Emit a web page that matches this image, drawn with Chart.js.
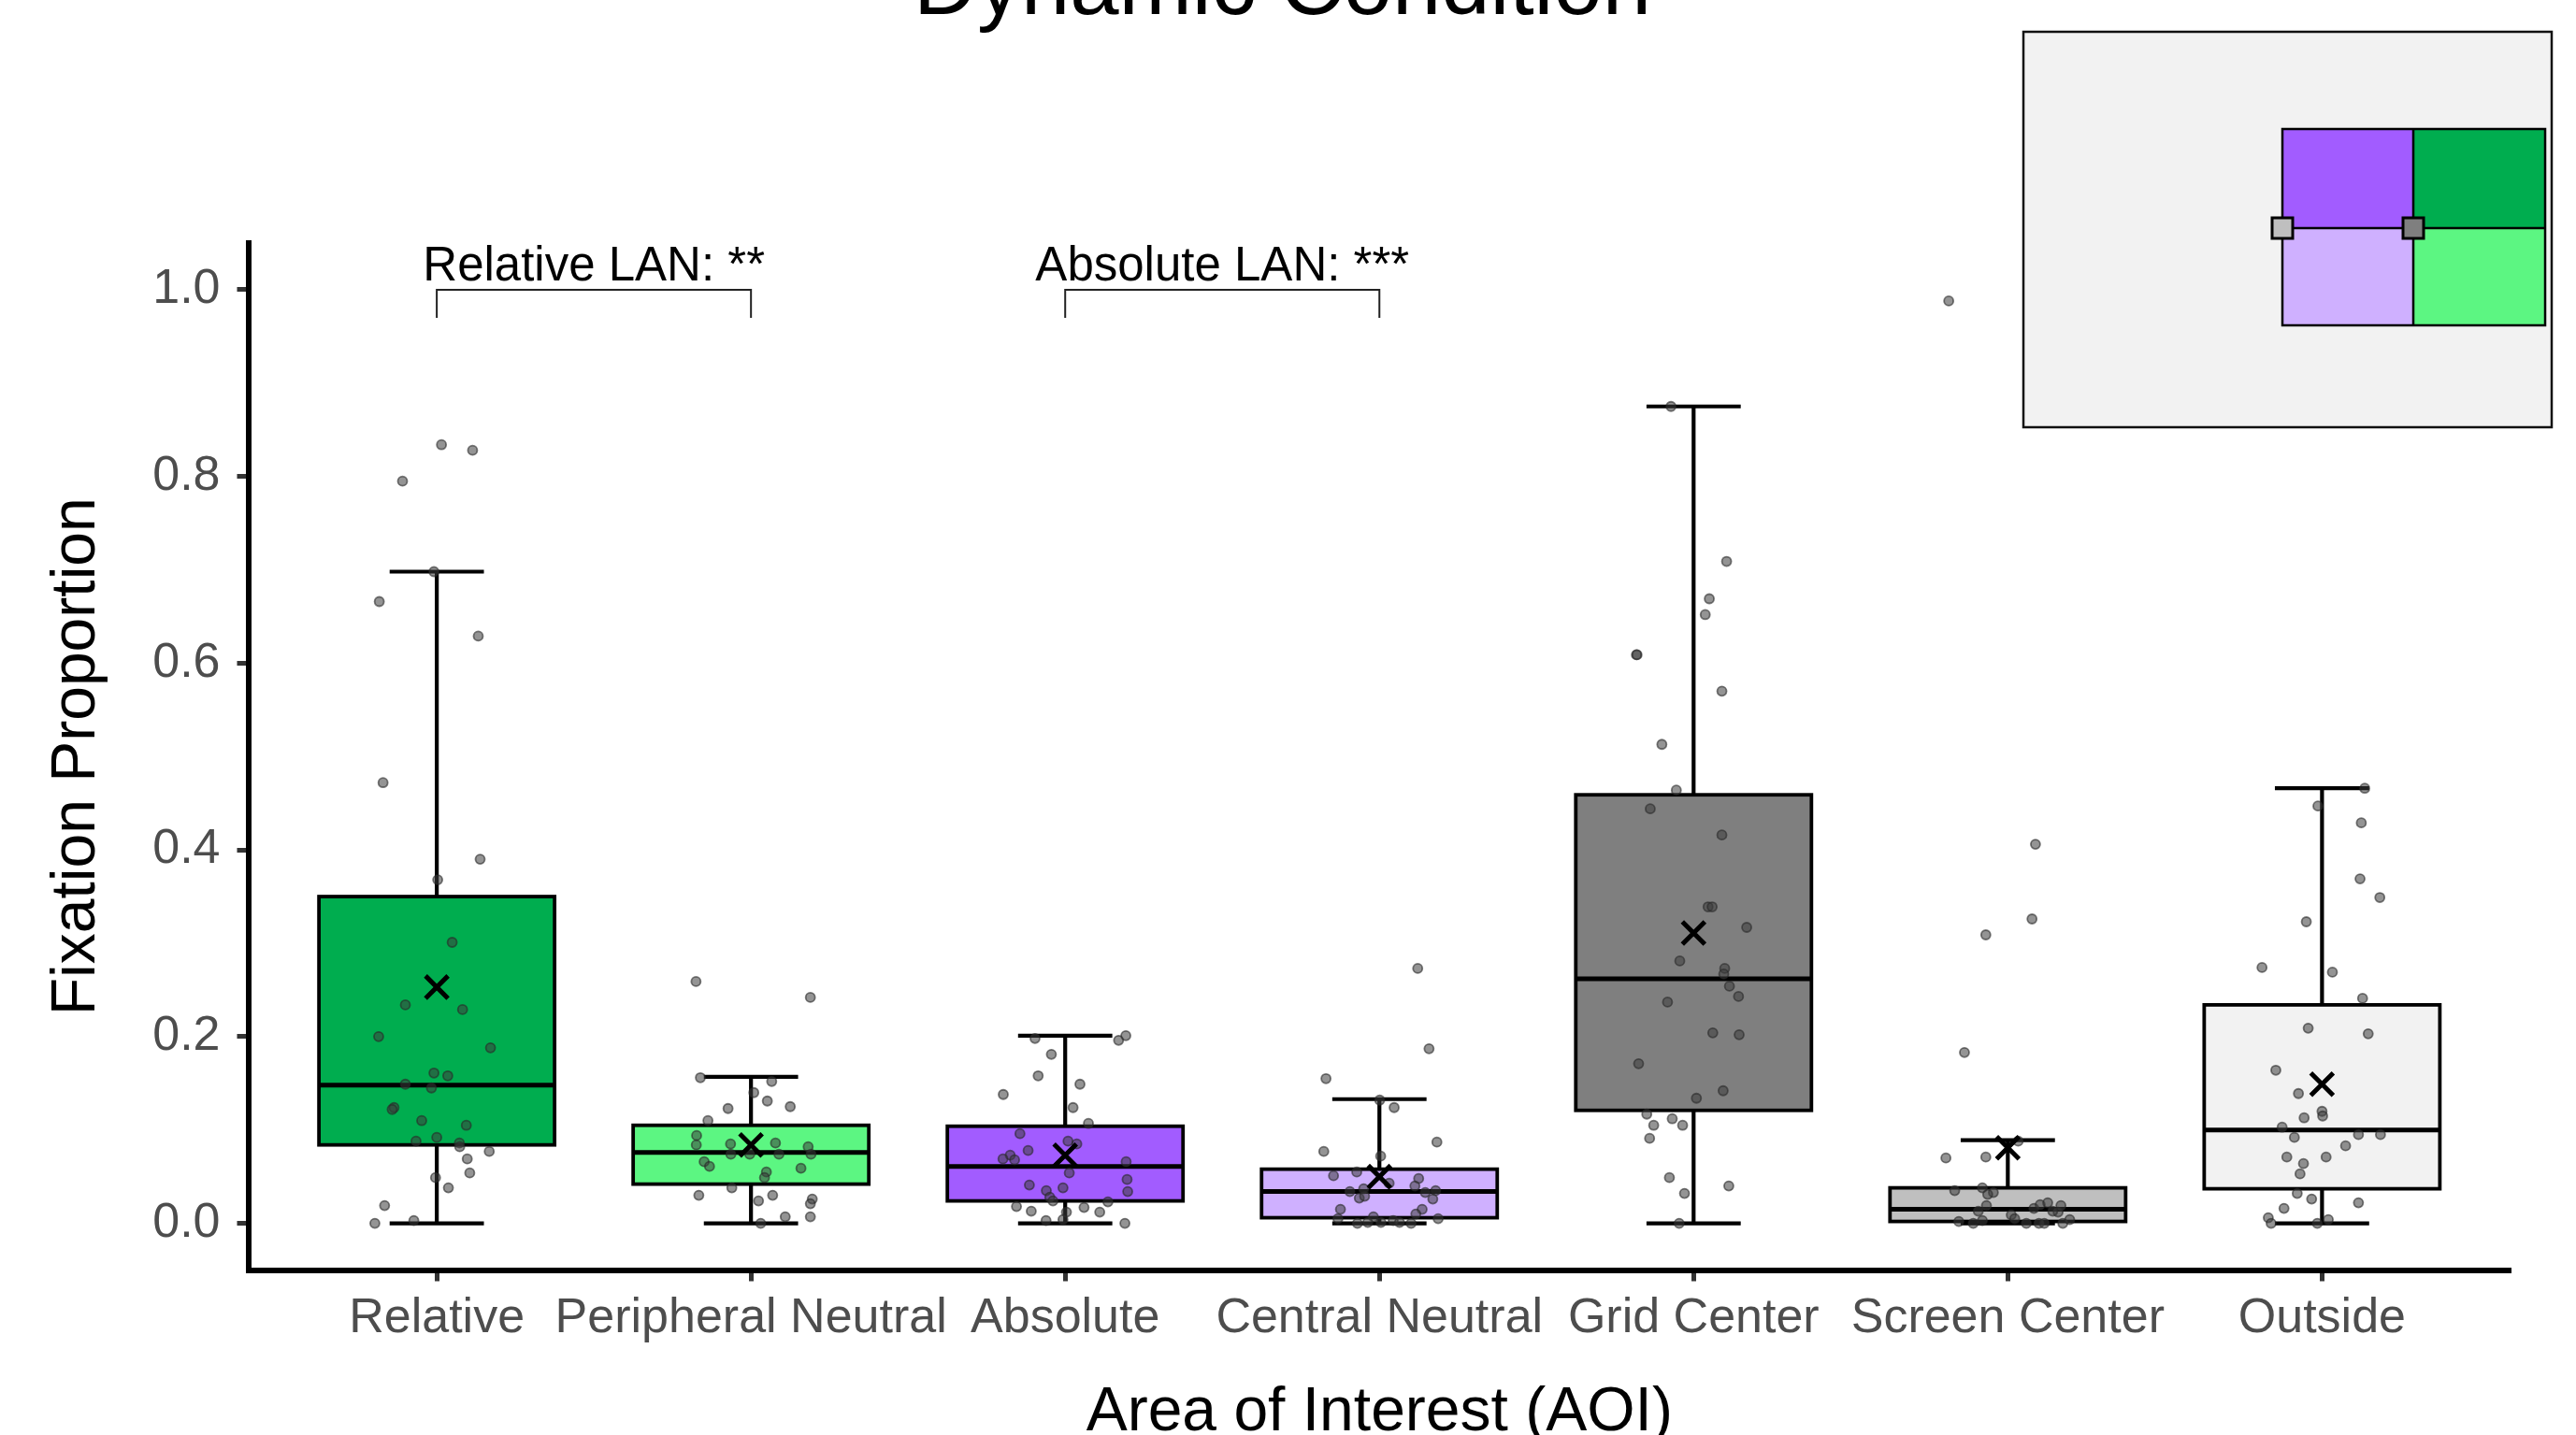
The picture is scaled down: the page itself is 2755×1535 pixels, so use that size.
<!DOCTYPE html>
<html>
<head>
<meta charset="utf-8">
<script src="https://cdn.jsdelivr.net/npm/chart.js@4.4.1/dist/chart.umd.min.js"></script>
<style>
  html, body { margin: 0; padding: 0; background: #ffffff; }
  canvas { display: block; }
</style>
</head>
<body>
<canvas id="chart" width="2755" height="1535"></canvas>
<script>
// Areas of interest along the x axis
const categories = ['Relative', 'Peripheral Neutral', 'Absolute', 'Central Neutral', 'Grid Center', 'Screen Center', 'Outside'];

// Box summaries (fixation proportion)
const whiskerLow  = [0.000, 0.000, 0.000, 0.000, 0.000, 0.000, 0.000];
const q1          = [0.084, 0.042, 0.024, 0.006, 0.121, 0.002, 0.037];
const median      = [0.148, 0.076, 0.061, 0.034, 0.262, 0.015, 0.100];
const q3          = [0.350, 0.105, 0.104, 0.058, 0.459, 0.038, 0.234];
const whiskerHigh = [0.698, 0.157, 0.201, 0.133, 0.875, 0.089, 0.466];
const means       = [0.253, 0.084, 0.073, 0.050, 0.311, 0.081, 0.149];

// Per-participant proportions and their horizontal jitter (category units)
const relativeVals = [0.834, 0.828, 0.795, 0.698, 0.666, 0.629, 0.472, 0.390, 0.368, 0.301, 0.234, 0.229, 0.200, 0.188, 0.161, 0.158, 0.149, 0.145, 0.124, 0.122, 0.110, 0.105, 0.092, 0.088, 0.086, 0.082, 0.077, 0.069, 0.054, 0.049, 0.038, 0.019, 0.000, 0.003];
const relativeJit  = [0.015, 0.114, -0.109, -0.009, -0.183, 0.132, -0.171, 0.138, 0.003, 0.049, -0.100, 0.082, -0.185, 0.171, -0.009, 0.035, -0.100, -0.017, -0.136, -0.142, -0.048, 0.094, 0.000, -0.066, 0.072, 0.073, 0.167, 0.097, 0.105, -0.004, 0.037, -0.166, -0.197, -0.073];

const peripheralVals = [0.259, 0.242, 0.156, 0.152, 0.140, 0.131, 0.125, 0.123, 0.110, 0.094, 0.084, 0.085, 0.086, 0.082, 0.074, 0.074, 0.074, 0.074, 0.066, 0.061, 0.059, 0.055, 0.049, 0.038, 0.030, 0.030, 0.024, 0.026, 0.021, 0.007, 0.007, 0.000];
const peripheralJit  = [-0.175, 0.189, -0.161, 0.066, 0.009, 0.052, 0.125, -0.073, -0.137, -0.173, -0.174, -0.065, 0.078, 0.182, -0.064, -0.004, 0.089, 0.191, -0.149, -0.132, 0.159, 0.049, 0.043, -0.061, -0.166, 0.069, 0.024, 0.195, 0.189, 0.109, 0.189, 0.031];

const absoluteVals = [0.198, 0.196, 0.201, 0.181, 0.158, 0.149, 0.138, 0.124, 0.107, 0.096, 0.088, 0.085, 0.078, 0.073, 0.069, 0.068, 0.066, 0.054, 0.047, 0.041, 0.038, 0.035, 0.034, 0.028, 0.024, 0.023, 0.018, 0.017, 0.013, 0.012, 0.012, 0.003, 0.004, 0.000];
const absoluteJit  = [-0.096, 0.170, 0.193, -0.044, -0.086, 0.047, -0.197, 0.025, 0.074, -0.144, 0.009, 0.037, -0.118, -0.175, -0.198, -0.161, 0.194, 0.013, 0.197, -0.114, -0.007, -0.060, 0.199, -0.049, -0.039, 0.136, -0.155, 0.060, -0.108, 0.110, 0.004, -0.061, -0.007, 0.190];

const centralVals = [0.273, 0.187, 0.155, 0.132, 0.124, 0.087, 0.077, 0.072, 0.051, 0.055, 0.048, 0.043, 0.040, 0.037, 0.034, 0.033, 0.035, 0.027, 0.029, 0.026, 0.015, 0.015, 0.010, 0.005, 0.007, 0.005, 0.000, 0.001, 0.001, 0.003, 0.001, 0.000];
const centralJit  = [0.122, 0.158, -0.170, 0.001, 0.047, 0.183, -0.177, 0.004, -0.146, -0.072, 0.125, 0.031, 0.113, -0.050, -0.094, 0.146, 0.179, -0.064, -0.047, 0.170, -0.124, 0.136, 0.116, -0.132, -0.019, 0.187, -0.070, -0.037, 0.005, 0.044, 0.064, 0.101];

const gridVals = [0.875, 0.709, 0.669, 0.652, 0.609, 0.609, 0.570, 0.513, 0.464, 0.444, 0.416, 0.339, 0.339, 0.317, 0.281, 0.273, 0.267, 0.254, 0.237, 0.243, 0.204, 0.202, 0.171, 0.142, 0.134, 0.117, 0.112, 0.105, 0.105, 0.091, 0.049, 0.040, 0.032, 0.000];
const gridJit  = [-0.072, 0.105, 0.050, 0.037, -0.182, -0.180, 0.090, -0.101, -0.055, -0.138, 0.090, 0.046, 0.059, 0.169, -0.044, 0.099, 0.096, 0.114, -0.083, 0.143, 0.061, 0.145, -0.175, 0.094, 0.009, -0.149, -0.068, -0.127, -0.035, -0.140, -0.077, 0.112, -0.029, -0.046];

const screenVals = [0.988, 0.406, 0.326, 0.309, 0.183, 0.070, 0.071, 0.088, 0.035, 0.038, 0.033, 0.031, 0.013, 0.019, 0.009, 0.016, 0.020, 0.022, 0.019, 0.012, 0.013, 0.002, 0.000, 0.003, 0.000, 0.000, 0.000, 0.000, 0.004, 0.005];
const screenJit  = [-0.188, 0.088, 0.077, -0.070, -0.138, -0.197, -0.070, 0.033, -0.169, -0.081, -0.046, -0.064, -0.094, -0.068, 0.011, 0.083, 0.103, 0.127, 0.169, 0.160, 0.143, -0.156, -0.110, -0.081, 0.059, 0.099, 0.116, 0.175, 0.197, 0.022];

const outsideVals = [0.466, 0.447, 0.429, 0.369, 0.349, 0.323, 0.274, 0.269, 0.241, 0.209, 0.203, 0.164, 0.139, 0.120, 0.115, 0.113, 0.103, 0.092, 0.095, 0.095, 0.083, 0.071, 0.071, 0.064, 0.053, 0.032, 0.026, 0.016, 0.022, 0.006, 0.000, 0.000, 0.004];
const outsideJit  = [0.136, -0.013, 0.125, 0.121, 0.184, -0.050, -0.191, 0.033, 0.129, -0.044, 0.147, -0.147, -0.075, 0.000, 0.002, -0.057, -0.127, -0.088, 0.116, 0.186, 0.075, -0.112, 0.013, -0.059, -0.070, -0.079, -0.033, -0.121, 0.116, -0.171, -0.162, -0.015, 0.020];

const pointVals = [relativeVals, peripheralVals, absoluteVals, centralVals, gridVals, screenVals, outsideVals];
const pointJit  = [relativeJit, peripheralJit, absoluteJit, centralJit, gridJit, screenJit, outsideJit];

// Y axis ticks
const yTicks = [0.0, 0.2, 0.4, 0.6, 0.8, 1.0];

// Significance brackets between AOI pairs (category positions, 1-based)
const compFrom   = [1, 3];
const compTo     = [2, 4];
const compLabels = ['Relative LAN: **', 'Absolute LAN: ***'];
const bracketTop = 1.0;
const bracketTip = 0.97;
const labelBase  = 1.01;

const boxColors = ['#00AD4F', '#5CF682', '#A25CFF', '#CFB0FF', '#7F7F7F', '#BFBFBF', '#F2F2F2'];
const FONT = '"Liberation Sans", Arial, Helvetica, sans-serif';

const jitterPoints = [];
pointVals.forEach((vals, i) => {
  vals.forEach((v, j) => jitterPoints.push({ x: i + 1 + pointJit[i][j], y: v }));
});
const meanPoints = means.map((m, i) => ({ x: i + 1, y: m }));

// Boxes, whiskers and medians drawn under the points
const boxPlugin = {
  id: 'boxes',
  beforeDatasetsDraw(chart) {
    const { ctx, scales: { x, y } } = chart;
    const unit = x.getPixelForValue(2) - x.getPixelForValue(1);
    const bw = unit * 0.375, cw = unit * 0.15;
    ctx.save();
    categories.forEach((c, i) => {
      const cx = x.getPixelForValue(i + 1);
      const yLo = y.getPixelForValue(whiskerLow[i]);
      const yHi = y.getPixelForValue(whiskerHigh[i]);
      const yQ1 = y.getPixelForValue(q1[i]);
      const yQ3 = y.getPixelForValue(q3[i]);
      const yMed = y.getPixelForValue(median[i]);
      ctx.strokeStyle = '#000';
      ctx.lineCap = 'butt';
      ctx.lineWidth = 4.2;
      ctx.beginPath();
      ctx.moveTo(cx, yLo); ctx.lineTo(cx, yHi);
      ctx.moveTo(cx - cw, yLo); ctx.lineTo(cx + cw, yLo);
      ctx.moveTo(cx - cw, yHi); ctx.lineTo(cx + cw, yHi);
      ctx.stroke();
      ctx.fillStyle = boxColors[i];
      ctx.fillRect(cx - bw, yQ3, 2 * bw, yQ1 - yQ3);
      ctx.lineWidth = 3.8;
      ctx.strokeRect(cx - bw, yQ3, 2 * bw, yQ1 - yQ3);
      ctx.lineWidth = 5;
      ctx.beginPath();
      ctx.moveTo(cx - bw, yMed); ctx.lineTo(cx + bw, yMed);
      ctx.stroke();
    });
    ctx.restore();
  }
};

// Title, significance brackets and the AOI layout diagram
const decorPlugin = {
  id: 'decor',
  afterDraw(chart) {
    const { ctx, scales: { x, y } } = chart;
    ctx.save();
    // title
    ctx.fillStyle = '#000';
    ctx.font = '94px ' + FONT;
    ctx.textAlign = 'center';
    ctx.textBaseline = 'alphabetic';
    ctx.fillText('Dynamic Condition', chart.width / 2 - 6, 15);

    // brackets
    ctx.strokeStyle = '#222';
    ctx.lineWidth = 2;
    ctx.font = '51px ' + FONT;
    compLabels.forEach((label, k) => {
      const x1 = x.getPixelForValue(compFrom[k]);
      const x2 = x.getPixelForValue(compTo[k]);
      const yt = y.getPixelForValue(bracketTop);
      const yb = y.getPixelForValue(bracketTip);
      ctx.beginPath();
      ctx.moveTo(x1, yb); ctx.lineTo(x1, yt); ctx.lineTo(x2, yt); ctx.lineTo(x2, yb);
      ctx.stroke();
      ctx.fillText(label, (x1 + x2) / 2, y.getPixelForValue(labelBase));
    });

    // AOI layout diagram
    const ox = 2164, oy = 34, ow = 565, oh = 423;
    ctx.fillStyle = '#F2F2F2';
    ctx.fillRect(ox, oy, ow, oh);
    ctx.strokeStyle = '#111';
    ctx.lineWidth = 2.5;
    ctx.strokeRect(ox, oy, ow, oh);
    const gl = 2441, gm = 2581, gr = 2722, gt = 138, gym = 244, gb = 348;
    const quads = [
      [gl, gt, gm - gl, gym - gt, boxColors[2]],
      [gm, gt, gr - gm, gym - gt, boxColors[0]],
      [gl, gym, gm - gl, gb - gym, boxColors[3]],
      [gm, gym, gr - gm, gb - gym, boxColors[1]]
    ];
    quads.forEach(q => { ctx.fillStyle = q[4]; ctx.fillRect(q[0], q[1], q[2], q[3]); });
    ctx.strokeStyle = '#000';
    ctx.lineWidth = 2.5;
    ctx.strokeRect(gl, gt, gr - gl, gb - gt);
    ctx.beginPath();
    ctx.moveTo(gm, gt); ctx.lineTo(gm, gb);
    ctx.moveTo(gl, gym); ctx.lineTo(gr, gym);
    ctx.stroke();
    const sq = 22;
    [[gl, boxColors[5]], [gm, boxColors[4]]].forEach(s => {
      ctx.fillStyle = s[1];
      ctx.fillRect(s[0] - sq / 2, gym - sq / 2, sq, sq);
      ctx.lineWidth = 3;
      ctx.strokeRect(s[0] - sq / 2, gym - sq / 2, sq, sq);
    });
    ctx.restore();
  }
};

new Chart(document.getElementById('chart'), {
  type: 'scatter',
  data: {
    datasets: [
      {
        label: 'Mean',
        data: meanPoints,
        order: 0,
        pointStyle: 'crossRot',
        radius: 17,
        borderWidth: 5,
        borderColor: '#000',
        backgroundColor: '#000'
      },
      {
        label: 'Participants',
        data: jitterPoints,
        order: 1,
        pointStyle: 'circle',
        radius: 5,
        borderWidth: 1.8,
        backgroundColor: 'rgba(60,60,60,0.55)',
        borderColor: 'rgba(40,40,40,0.6)'
      }
    ]
  },
  options: {
    responsive: false,
    animation: false,
    devicePixelRatio: 1,
    events: [],
    layout: { padding: { top: 260, right: 70, bottom: 0, left: 0 } },
    plugins: {
      legend: { display: false },
      tooltip: { enabled: false },
      title: { display: false }
    },
    scales: {
      x: {
        type: 'linear',
        min: 0.4,
        max: 7.6,
        afterBuildTicks: s => { s.ticks = categories.map((_, i) => ({ value: i + 1 })); },
        afterFit: s => { s.height = 176.5; },
        grid: { display: true, drawOnChartArea: false, drawTicks: true, tickLength: 12, tickWidth: 5, tickColor: '#333333' },
        border: { display: true, color: '#000', width: 6 },
        ticks: {
          autoSkip: false, maxRotation: 0, minRotation: 0, padding: 9,
          color: '#4D4D4D', font: { family: FONT, size: 52, lineHeight: 1.2 },
          callback: v => categories[Math.round(v) - 1] ?? ''
        },
        title: {
          display: true, text: 'Area of Interest (AOI)', color: '#000',
          font: { family: FONT, size: 66, lineHeight: 1 }, padding: { top: 0, bottom: -10 }
        }
      },
      y: {
        type: 'linear',
        min: -0.05,
        max: 1.05,
        afterBuildTicks: s => { s.ticks = yTicks.map(v => ({ value: v })); },
        afterFit: s => { s.width = 265.5; },
        grid: { display: true, drawOnChartArea: false, drawTicks: true, tickLength: 12, tickWidth: 5, tickColor: '#333333' },
        border: { display: true, color: '#000', width: 6 },
        ticks: {
          padding: 18, color: '#4D4D4D', font: { family: FONT, size: 52, lineHeight: 1.2 },
          callback: v => Number(v).toFixed(1)
        },
        title: {
          display: true, text: 'Fixation Proportion', color: '#000',
          font: { family: FONT, size: 66, lineHeight: 1 }, padding: { top: 49.5, bottom: 0 }
        }
      }
    }
  },
  plugins: [boxPlugin, decorPlugin]
});
</script>
</body>
</html>
